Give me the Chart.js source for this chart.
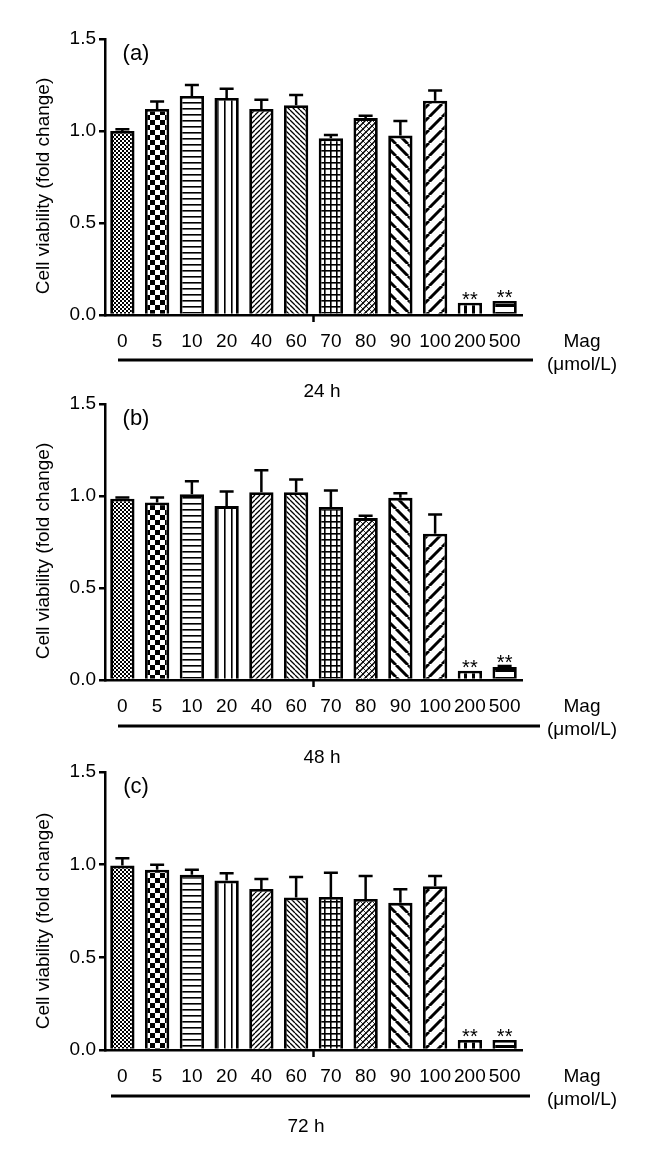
<!DOCTYPE html>
<html lang="en">
<head>
<meta charset="UTF-8" />
<title>Cell viability (fold change)</title>
<script src="https://cdn.jsdelivr.net/npm/chart.js"></script>
<style>
  body { margin: 0; background: #fff; }
  #wrap { position: relative; width: 648px; height: 1158px; }
  canvas { position: absolute; left: 0; }
</style>
</head>
<body>
<div id="wrap">
  <canvas id="chartA" width="648" height="420" style="top:0px"></canvas>
  <canvas id="chartB" width="648" height="420" style="top:365px"></canvas>
  <canvas id="chartC" width="648" height="420" style="top:733px"></canvas>
</div>
<script>
// categories / ticks
const doses = ['0', '5', '10', '20', '40', '60', '70', '80', '90', '100', '200', '500'];
const yTicks = [0, 0.5, 1.0, 1.5];
const starred = ['200', '500'];

// 24 h
const mean24 = [1.00, 1.12, 1.19, 1.18, 1.12, 1.14, 0.96, 1.07, 0.975, 1.165, 0.067, 0.076];
const err24 = [0.01, 0.04, 0.06, 0.05, 0.05, 0.055, 0.018, 0.013, 0.08, 0.055, 0, 0];
// 48 h
const mean48 = [0.985, 0.965, 1.01, 0.945, 1.02, 1.02, 0.94, 0.88, 0.99, 0.795, 0.05, 0.07];
const err48 = [0.007, 0.027, 0.07, 0.08, 0.12, 0.07, 0.09, 0.012, 0.025, 0.105, 0, 0.006];
// 72 h
const mean72 = [0.995, 0.973, 0.946, 0.914, 0.869, 0.823, 0.826, 0.815, 0.794, 0.884, 0.054, 0.054];
const err72 = [0.04, 0.026, 0.027, 0.04, 0.054, 0.11, 0.13, 0.124, 0.073, 0.055, 0, 0];

const FONT = '"Liberation Sans", Arial, sans-serif';
const CANVAS_H = 420;

// --- fill patterns, one per bar ---
function tile(w, h, draw) {
    const c = document.createElement('canvas');
    c.width = w; c.height = h;
    const g = c.getContext('2d');
    g.fillStyle = '#fff';
    g.fillRect(0, 0, w, h);
    g.fillStyle = '#000';
    g.strokeStyle = '#000';
    draw(g, w, h);
    return g.createPattern(c, 'repeat');
}
function diag(g, s, lw, dir) {
    g.lineWidth = lw;
    g.beginPath();
    for (let k = -1; k <= 1; k++) {
        if (dir > 0) { g.moveTo(k * s, s); g.lineTo(k * s + s, 0); }
        else { g.moveTo(k * s, 0); g.lineTo(k * s + s, s); }
    }
    g.stroke();
}
const patterns = [
    tile(4, 4, g => { g.fillRect(0, 0, 2, 2); g.fillRect(2, 2, 2, 2); }),      // fine check
    tile(10, 10, g => { g.fillRect(0, 0, 5, 5); g.fillRect(5, 5, 5, 5); }),    // check
    tile(6, 6, g => g.fillRect(0, 0, 6, 1.6)),                                  // horizontal
    tile(7, 6, g => g.fillRect(0, 0, 1.6, 6)),                                  // vertical
    tile(5, 5, g => diag(g, 5, 1.3, 1)),                                        // dense /
    tile(5, 5, g => diag(g, 5, 1.3, -1)),                                       // dense \
    tile(6, 6, g => { g.fillRect(0, 0, 6, 1.6); g.fillRect(0, 0, 1.6, 6); }),  // grid
    tile(6, 6, g => { diag(g, 6, 1.5, 1); diag(g, 6, 0.8, -1); }),              // zig
    tile(12, 12, g => diag(g, 12, 3, -1)),                                      // wide \
    tile(13, 13, g => diag(g, 13, 3, 1)),                                       // wide /
    tile(8, 6, g => g.fillRect(0, 0, 3, 6)),                                    // wide vertical
    tile(6, 8, g => g.fillRect(0, 0, 6, 3))                                     // wide horizontal
];

// error bars, labels and the bracket under the axis
const decor = {
    id: 'decor',
    afterDatasetsDraw(chart) {
        const { ctx, scales: { y } } = chart;
        const ds = chart.data.datasets[0];
        const meta = chart.getDatasetMeta(0);
        ctx.save();
        ctx.strokeStyle = '#000';
        ctx.lineWidth = 2.5;
        ds.data.forEach((v, i) => {
            const e = ds.errors[i];
            if (!e) return;
            const x = meta.data[i].x;
            const y0 = y.getPixelForValue(v);
            const y1 = y.getPixelForValue(v + e);
            ctx.beginPath();
            ctx.moveTo(x, y0);
            ctx.lineTo(x, y1);
            ctx.moveTo(x - 7, y1);
            ctx.lineTo(x + 7, y1);
            ctx.stroke();
        });
        ctx.restore();
    },
    afterDraw(chart, args, o) {
        const { ctx, chartArea: a, scales: { x, y } } = chart;
        const ds = chart.data.datasets[0];
        const meta = chart.getDatasetMeta(0);
        const B = a.bottom;
        ctx.save();
        ctx.fillStyle = '#000';
        ctx.strokeStyle = '#000';

        // middle tick on the x axis
        const mx = (x.getPixelForValue(5) + x.getPixelForValue(6)) / 2;
        ctx.lineWidth = 2.5;
        ctx.beginPath();
        ctx.moveTo(mx, B);
        ctx.lineTo(mx, B + 7);
        ctx.stroke();

        // bracket line
        ctx.lineWidth = 3;
        ctx.beginPath();
        ctx.moveTo(o.lineX[0], B + o.lineDy);
        ctx.lineTo(o.lineX[1], B + o.lineDy);
        ctx.stroke();

        ctx.textAlign = 'center';
        ctx.textBaseline = 'middle';
        ctx.font = '19px ' + FONT;
        ctx.fillText('Mag', 582, B + 27);
        ctx.fillText('(μmol/L)', 582, B + 50);
        ctx.fillText(o.time, o.timeX, B + o.timeDy);

        ctx.font = '22px ' + FONT;
        ctx.fillText(o.tag, 136, a.top + 15);

        // significance marks
        ctx.font = '20px ' + FONT;
        ctx.textBaseline = 'alphabetic';
        doses.forEach((d, i) => {
            if (!starred.includes(d)) return;
            const top = y.getPixelForValue(ds.data[i] + ds.errors[i]);
            ctx.fillText('**', meta.data[i].x, top + 3);
        });

        // y axis title
        ctx.translate(44, B - 129);
        ctx.rotate(-Math.PI / 2);
        ctx.textBaseline = 'middle';
        ctx.font = '19px ' + FONT;
        ctx.fillText('Cell viability (fold change)', 0, 0);
        ctx.restore();
    }
};

function makeChart(id, means, errs, plotH, deco) {
    return new Chart(document.getElementById(id), {
        type: 'bar',
        data: {
            labels: doses,
            datasets: [{
                data: means,
                errors: errs,
                backgroundColor: patterns,
                borderColor: '#000',
                borderWidth: 2.8,
                barPercentage: 0.7,
                categoryPercentage: 1
            }]
        },
        options: {
            responsive: false,
            animation: false,
            layout: { padding: { top: 39, right: 126, left: 0, bottom: 0 } },
            plugins: {
                legend: { display: false },
                tooltip: { enabled: false },
                decor: deco
            },
            scales: {
                x: {
                    grid: { display: false, drawTicks: false },
                    border: { display: true, color: '#000', width: 2.5 },
                    ticks: { color: '#000', font: { family: FONT, size: 19 }, padding: 15, maxRotation: 0, autoSkip: false },
                    afterFit: s => { s.height = CANVAS_H - 39 - plotH; }
                },
                y: {
                    min: yTicks[0],
                    max: yTicks[yTicks.length - 1],
                    afterBuildTicks: s => { s.ticks = yTicks.map(v => ({ value: v })); },
                    grid: { drawOnChartArea: false, color: '#000', lineWidth: 2.5, tickLength: 6 },
                    border: { display: true, color: '#000', width: 2.5 },
                    ticks: { color: '#000', font: { family: FONT, size: 19 }, padding: 3, callback: v => Number(v).toFixed(1) },
                    afterFit: s => { s.width = 105; }
                }
            }
        },
        plugins: [decor]
    });
}

makeChart('chartA', mean24, err24, 276, { tag: '(a)', time: '24 h', timeX: 322, timeDy: 77, lineX: [118, 533], lineDy: 45 });
makeChart('chartB', mean48, err48, 276, { tag: '(b)', time: '48 h', timeX: 322, timeDy: 78, lineX: [118, 540], lineDy: 46 });
makeChart('chartC', mean72, err72, 278, { tag: '(c)', time: '72 h', timeX: 306, timeDy: 77, lineX: [111, 530], lineDy: 46 });
</script>
</body>
</html>
